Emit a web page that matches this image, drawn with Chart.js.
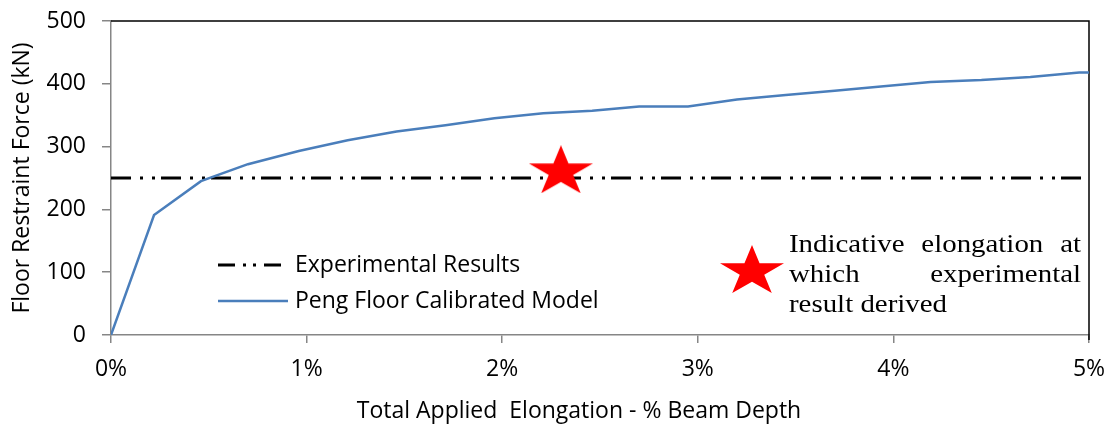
<!DOCTYPE html>
<html>
<head>
<meta charset="utf-8">
<script src="https://cdn.jsdelivr.net/npm/chart.js@4.4.1/dist/chart.umd.min.js"></script>
<style>
  html, body { margin: 0; padding: 0; background: #ffffff; }
  #wrap { width: 1109px; height: 425px; position: relative; }
  #c { display: block; }
</style>
</head>
<body>
<div id="wrap"><canvas id="c" width="1109" height="425"></canvas></div>
<script>
// Peng floor calibrated model: elongation (% beam depth) vs restraint force (kN)
const elongationPct = [0, 0.22, 0.46, 0.70, 0.96, 1.21, 1.46, 1.71, 1.96, 2.21, 2.46, 2.70, 2.95, 3.20, 3.45, 3.70, 3.95, 4.19, 4.45, 4.70, 4.95, 5.00];
const pengForce     = [0, 191, 245, 272, 293, 310, 324, 334, 345, 353, 357, 364, 364, 375, 382, 389, 396, 403, 406, 411, 418, 418];

// Experimental restraint force (constant level)
const experimentalX     = [0, 5];
const experimentalForce = [250, 250];

// Elongation at which the experimental result was derived
const markerX     = [2.3];
const markerForce = [264];

// Axis ticks
const xTicks = [0, 1, 2, 3, 4, 5];
const yTicks = [0, 100, 200, 300, 400, 500];

const seriesLabels = ['Experimental Results', 'Peng Floor Calibrated Model'];
const markerNote = ['Indicative elongation at', 'which experimental', 'result derived'];
const xTitle = 'Total Applied  Elongation - % Beam Depth';
const yTitle = 'Floor Restraint Force (kN)';

const SANS = '"Open Sans", "DejaVu Sans", sans-serif';
const SERIF = '"Liberation Serif", "DejaVu Serif", serif';
const AXIS_GREY = '#868686';
const BLUE = '#4A7EBB';
const DASH = [20, 9, 3, 9, 3, 6];

// red five-pointed star, slightly wide
function makeStar(w, h, color) {
  const cv = document.createElement('canvas');
  cv.width = w; cv.height = h;
  const g = cv.getContext('2d');
  const ry = h / (1 + Math.cos(Math.PI / 5));
  const rx = (w / 2) / Math.sin(2 * Math.PI / 5);
  const cx = w / 2, cy = ry;
  const inner = 0.382;
  g.beginPath();
  for (let i = 0; i < 10; i++) {
    const a = -Math.PI / 2 + i * Math.PI / 5;
    const r = (i % 2 === 0) ? 1 : inner;
    const px = cx + Math.cos(a) * rx * r;
    const py = cy + Math.sin(a) * ry * r;
    if (i === 0) g.moveTo(px, py); else g.lineTo(px, py);
  }
  g.closePath();
  g.fillStyle = color;
  g.fill();
  return cv;
}
const starImg = makeStar(64, 48, '#FF0000');

const toPoints = (xs, ys) => xs.map((x, i) => ({ x: x, y: ys[i] }));

// frame, legend, note and x title
const decorations = {
  id: 'decorations',
  beforeDatasetsDraw(chart) {
    const { ctx, chartArea: a } = chart;
    ctx.save();
    ctx.strokeStyle = '#000000';
    ctx.lineWidth = 1.5;
    ctx.beginPath();
    ctx.moveTo(a.left, a.top);
    ctx.lineTo(a.right, a.top);
    ctx.lineTo(a.right, a.bottom + 5);
    ctx.stroke();
    ctx.restore();
  },
  afterDraw(chart) {
    const { ctx } = chart;
    const ds = chart.data.datasets;
    ctx.save();

    // series legend
    const rows = [{ d: ds[0], y: 265 }, { d: ds[1], y: 301 }];
    rows.forEach(r => {
      ctx.strokeStyle = r.d.borderColor;
      ctx.lineWidth = r.d.legendWidth;
      ctx.setLineDash(r.d.legendDash || []);
      ctx.beginPath();
      ctx.moveTo(218, r.y);
      ctx.lineTo(288, r.y);
      ctx.stroke();
      ctx.setLineDash([]);
      ctx.fillStyle = '#000000';
      ctx.font = '23px ' + SANS;
      ctx.textBaseline = 'middle';
      ctx.textAlign = 'left';
      ctx.fillText(r.d.label, 295, r.y);
    });

    // marker key
    ctx.drawImage(starImg, 720, 245, 64, 48);
    ctx.font = '26px ' + SERIF;
    ctx.fillStyle = '#000000';
    ctx.textBaseline = 'alphabetic';
    const left = 789, right = 1081;
    const sx = 158 / ctx.measureText(markerNote[markerNote.length - 1]).width;
    markerNote.forEach((line, i) => {
      const y = 252 + i * 30;
      const words = line.split(' ');
      const drawWord = (w, x) => {
        ctx.save();
        ctx.translate(x, y);
        ctx.scale(sx, 1);
        ctx.fillText(w, 0, 0);
        ctx.restore();
      };
      if (i === markerNote.length - 1 || words.length < 2) {
        drawWord(line, left);
      } else {
        const widths = words.map(w => ctx.measureText(w).width * sx);
        const total = widths.reduce((s, v) => s + v, 0);
        const gap = (right - left - total) / (words.length - 1);
        let x = left;
        words.forEach((w, k) => { drawWord(w, x); x += widths[k] + gap; });
      }
    });

    // x axis title
    ctx.font = '23px ' + SANS;
    ctx.fillStyle = '#000000';
    ctx.textAlign = 'center';
    ctx.textBaseline = 'middle';
    ctx.fillText(xTitle, 579, 411);
    ctx.restore();
  }
};

new Chart(document.getElementById('c'), {
  type: 'scatter',
  data: {
    datasets: [
      {
        label: seriesLabels[0],
        data: toPoints(experimentalX, experimentalForce),
        showLine: true,
        borderColor: '#000000',
        borderWidth: 3,
        borderDash: DASH,
        borderCapStyle: 'butt',
        legendDash: [17, 8, 3, 7, 3, 8],
        legendWidth: 3,
        pointRadius: 0,
        order: 2
      },
      {
        label: seriesLabels[1],
        data: toPoints(elongationPct, pengForce),
        showLine: true,
        borderColor: BLUE,
        borderWidth: 2.5,
        legendWidth: 2.5,
        tension: 0,
        pointRadius: 0,
        order: 1
      },
      {
        label: 'marker',
        data: toPoints(markerX, markerForce),
        showLine: false,
        pointStyle: starImg,
        pointRadius: 30,
        order: 0
      }
    ]
  },
  options: {
    responsive: false,
    animation: false,
    devicePixelRatio: 1,
    layout: { autoPadding: false, padding: { top: 21, right: 20, left: 0, bottom: 0 } },
    plugins: { legend: { display: false }, tooltip: { enabled: false } },
    scales: {
      x: {
        type: 'linear',
        min: 0, max: 5,
        afterFit(s) { s.height = 90; s.paddingLeft = 0; s.paddingRight = 0; },
        afterBuildTicks(s) { s.ticks = xTicks.map(v => ({ value: v })); },
        ticks: {
          callback: v => v + '%',
          color: '#000000',
          font: { family: SANS, size: 23 },
          padding: 13,
          maxRotation: 0,
          autoSkip: false
        },
        grid: { drawOnChartArea: false, drawTicks: true, tickLength: 8, color: AXIS_GREY, lineWidth: 1.5 },
        border: { display: true, color: AXIS_GREY, width: 1.5 },
        title: { display: false }
      },
      y: {
        type: 'linear',
        min: 0, max: 500,
        afterFit(s) { s.width = 111; s.paddingTop = 0; s.paddingBottom = 0; },
        afterBuildTicks(s) { s.ticks = yTicks.map(v => ({ value: v })); },
        ticks: {
          color: '#000000',
          font: { family: SANS, size: 23 },
          padding: 16,
          autoSkip: false
        },
        grid: { drawOnChartArea: false, drawTicks: true, tickLength: 9, color: AXIS_GREY, lineWidth: 1.5 },
        border: { display: true, color: AXIS_GREY, width: 1.5 },
        title: {
          display: true,
          text: yTitle,
          color: '#000000',
          font: { family: SANS, size: 23 },
          padding: { top: 9, bottom: 0 }
        }
      }
    }
  },
  plugins: [decorations]
});
</script>
</body>
</html>
